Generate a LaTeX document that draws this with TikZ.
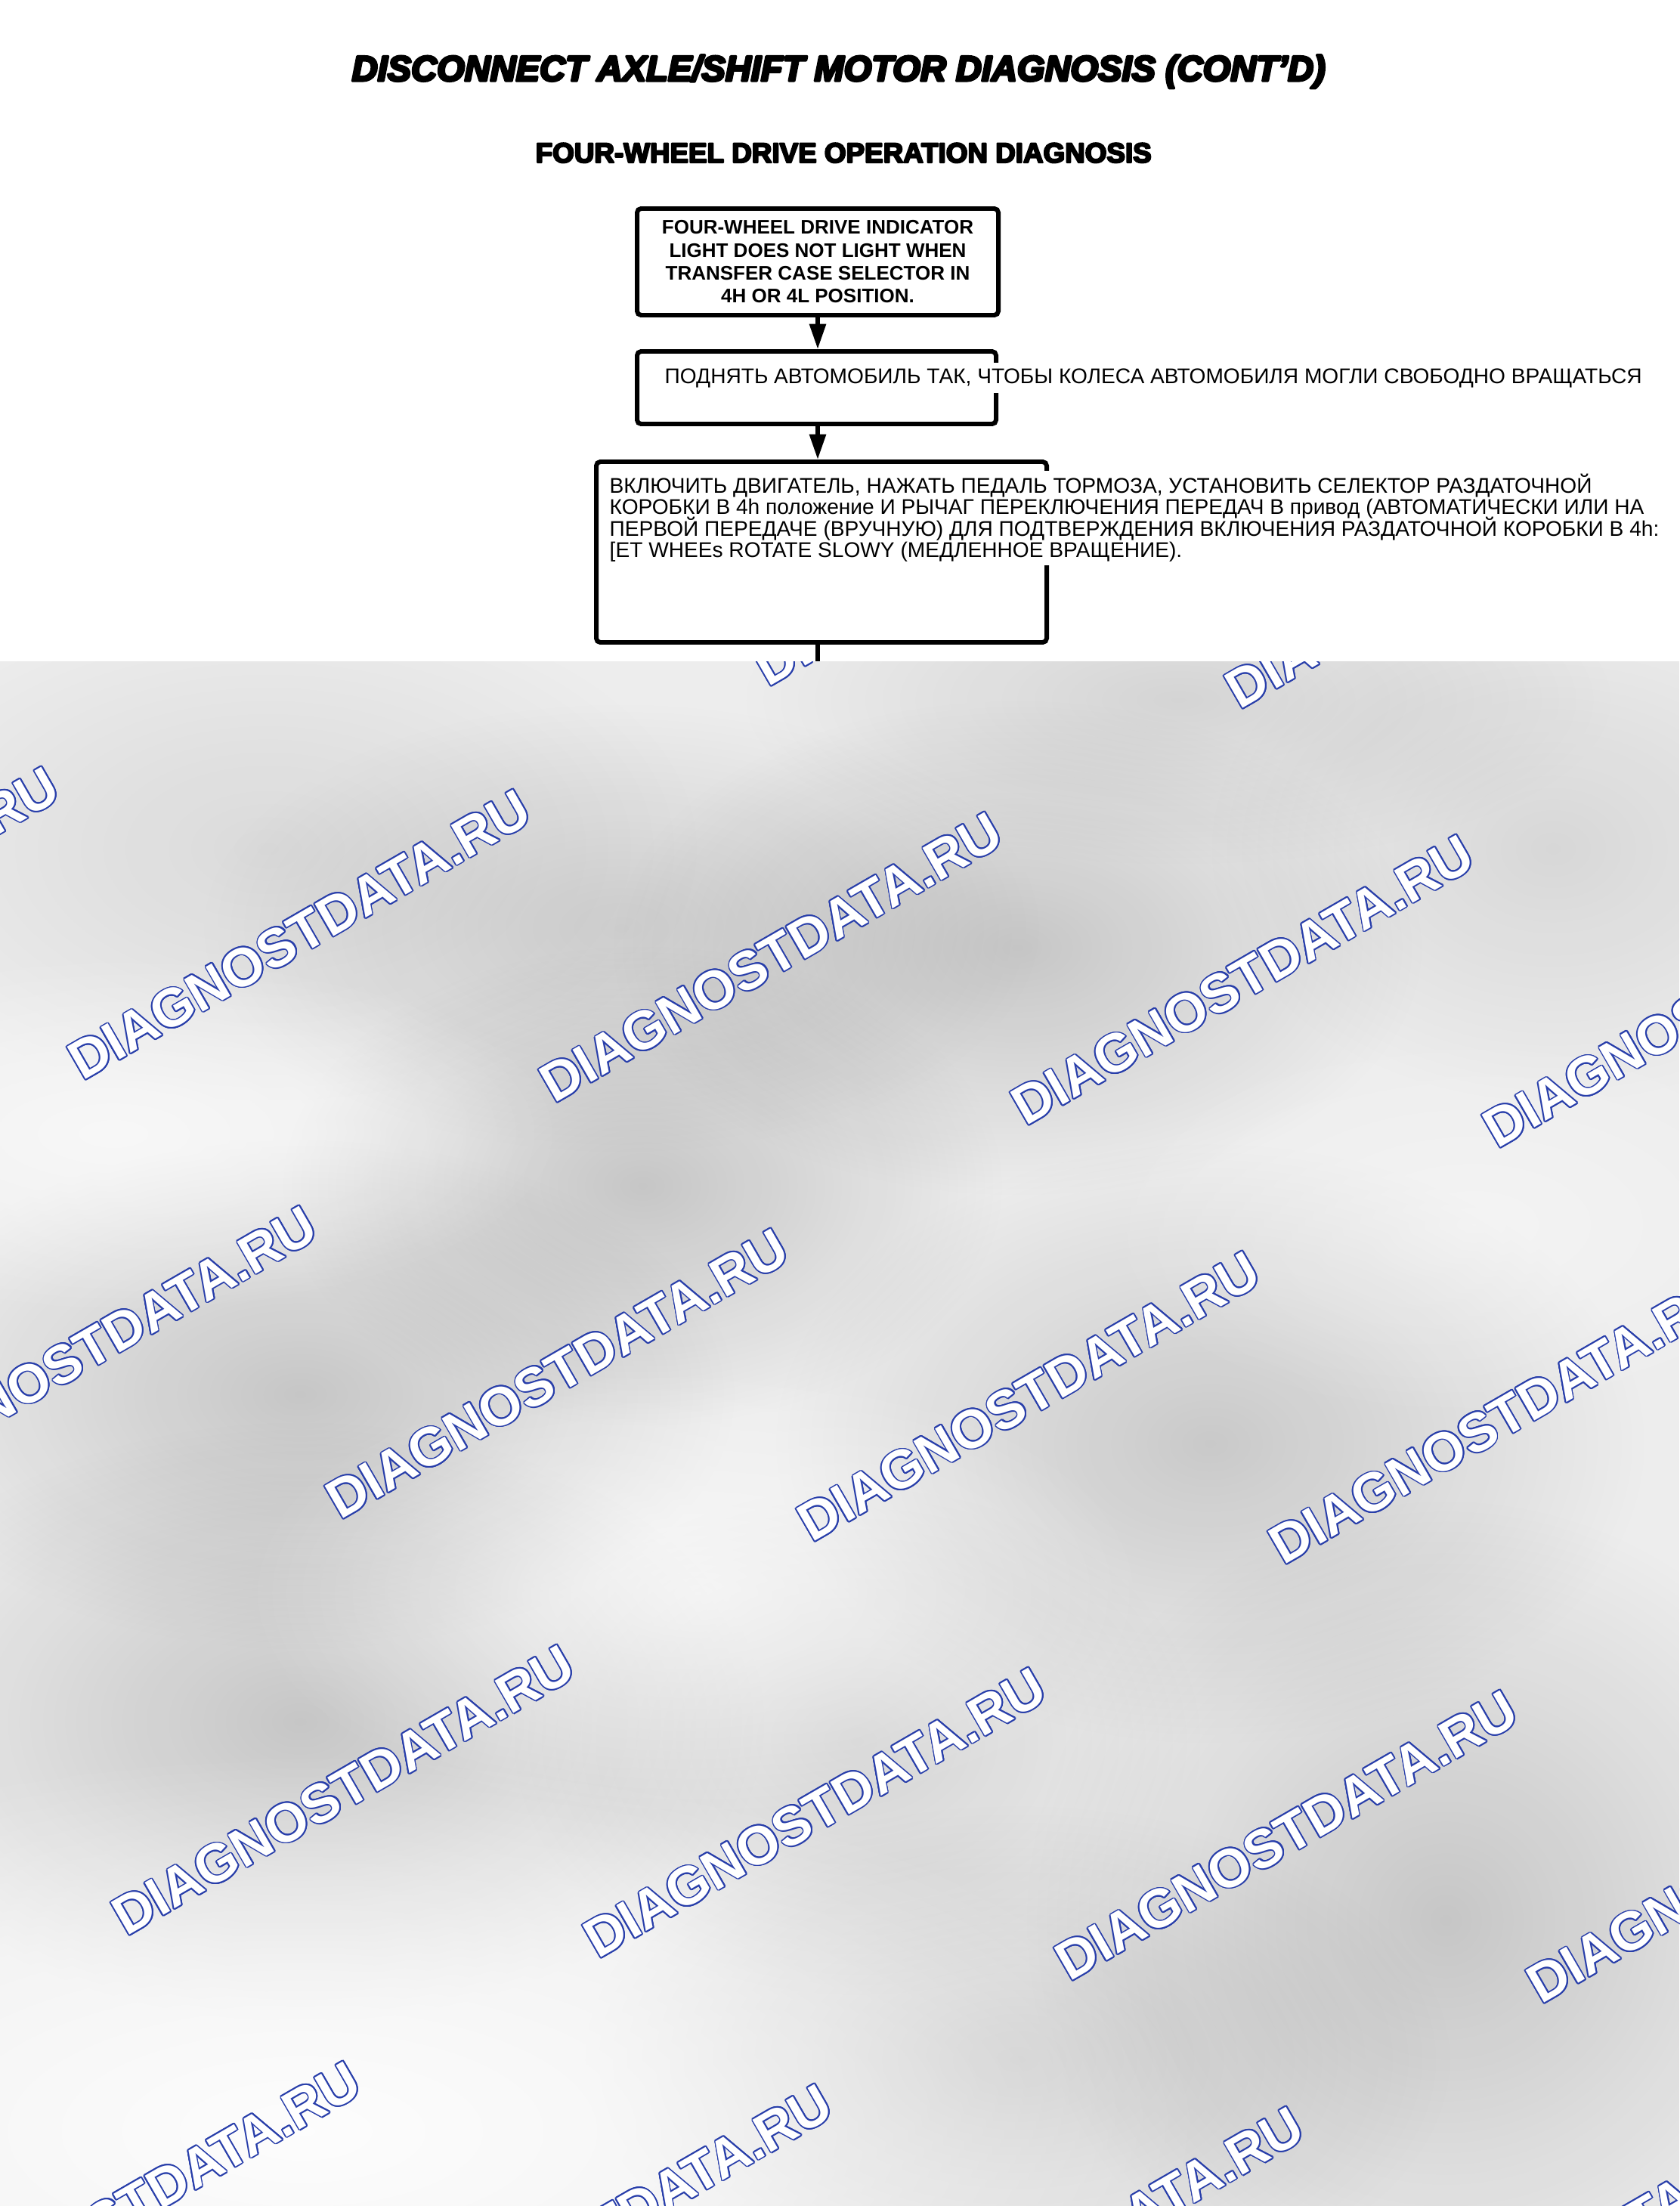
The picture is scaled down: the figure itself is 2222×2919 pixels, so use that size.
\documentclass[tikz,border=0pt]{standalone}
\usepackage{fontspec}
\setmainfont{Liberation Sans}
\usepackage{contour}
\contourlength{0.5pt}
\usetikzlibrary{arrows.meta,fadings}
\tikzfading[name=blobfade, inner color=transparent!0, outer color=transparent!100]
\definecolor{wmblue}{RGB}{40,62,170}
\definecolor{bgbase}{RGB}{237,237,237}
\newcommand\dblob[5]{\fill[black, path fading=blobfade, fill opacity=#5] (#1,#2) ellipse [x radius=#3, y radius=#4];}
\newcommand\lblob[5]{\fill[white, path fading=blobfade, fill opacity=#5] (#1,#2) ellipse [x radius=#3, y radius=#4];}
\newcommand\heavytext[2]{\special{pdf:literal direct q 2 Tr 1 j #1 w 0 g 0 G}#2\special{pdf:literal direct Q}}
\begin{document}
\begin{tikzpicture}[x=0.1mm,y=-0.1mm,
  box/.style={draw, line width=1.7pt, rounded corners=1.5pt, inner sep=0pt},
  arr/.style={line width=1.6pt, -{Triangle[length=9.5pt,width=6pt]}},
  ttl/.style={anchor=base west, inner sep=0pt},
  ru/.style={anchor=base west, inner sep=0pt, font=\fontsize{8}{9.6}\selectfont},
  wm/.style={anchor=base west, inner sep=0pt, rotate=30, text=white,
    font=\fontsize{20.4}{24}\selectfont\bfseries}]

\useasboundingbox (0,0) rectangle (2222,2919);
\fill[white] (0,0) rectangle (2222,2919);

% titles
\node[ttl] (title) at (465,107)
  {\resizebox{128.8mm}{!}{\bfseries\itshape\heavytext{0.7}{DISCONNECT AXLE/SHIFT MOTOR DIAGNOSIS (CONT’D)}}};
\node[ttl] (sub) at (708,215)
  {\resizebox{81.5mm}{!}{\bfseries\heavytext{0.6}{FOUR-WHEEL DRIVE OPERATION DIAGNOSIS}}};

% boxes
\node[box, minimum width=47.8mm, minimum height=14.1mm, align=center,
  font=\fontsize{7.4}{8.63}\selectfont\bfseries] (b1) at (1082,346.5)
  {FOUR-WHEEL DRIVE INDICATOR\\LIGHT DOES NOT LIGHT WHEN\\TRANSFER CASE SELECTOR IN\\4H OR 4L POSITION.};
\node[box, minimum width=47.5mm, minimum height=9.6mm] (b2) at (1080.5,513) {};
\node[box, minimum width=59.6mm, minimum height=23.9mm] (b3) at (1087,730.5) {};

% connectors
\draw[arr] (b1.south) -- (b1.south |- b2.north);
\draw[arr] (b1.south |- b2.south) -- (b1.south |- b3.north);
\coordinate (cut) at (1082,885);
\draw[line width=1.6pt] (b1.south |- b3.south) -- (cut);

% box 2 text
\fill[white] (872,480) rectangle (2180,520);
\node[ru] (t2) at (879,508) {ПОДНЯТЬ АВТОМОБИЛЬ ТАК, ЧТОБЫ КОЛЕСА АВТОМОБИЛЯ МОГЛИ СВОБОДНО ВРАЩАТЬСЯ};

% box 3 text
\fill[white] (798,623) rectangle (2205,748);
\node[ru] (t3a) at (806,652) {ВКЛЮЧИТЬ ДВИГАТЕЛЬ, НАЖАТЬ ПЕДАЛЬ ТОРМОЗА, УСТАНОВИТЬ СЕЛЕКТОР РАЗДАТОЧНОЙ};
\node[ru] (t3b) at (806,680) {КОРОБКИ В 4h положение И РЫЧАГ ПЕРЕКЛЮЧЕНИЯ ПЕРЕДАЧ В привод (АВТОМАТИЧЕСКИ ИЛИ НА};
\node[ru] (t3c) at (806,709) {ПЕРВОЙ ПЕРЕДАЧЕ (ВРУЧНУЮ) ДЛЯ ПОДТВЕРЖДЕНИЯ ВКЛЮЧЕНИЯ РАЗДАТОЧНОЙ КОРОБКИ В 4h:};
\node[ru] (t3d) at (806,737) {[ET WHEEs ROTATE SLOWY (МЕДЛЕННОЕ ВРАЩЕНИЕ).};

% blurred watermark background
\begin{scope}
\clip (0,875) rectangle (2222,2919);
\fill[bgbase] (0,875) rectangle (2222,2919);
\dblob{822}{1228}{560}{300}{0.12}
\dblob{850}{1569}{480}{320}{0.16}
\dblob{1346}{1254}{540}{330}{0.16}
\dblob{397}{1845}{580}{340}{0.16}
\dblob{1601}{1910}{580}{400}{0.15}
\dblob{397}{2278}{620}{400}{0.16}
\dblob{1134}{2304}{460}{340}{0.1}
\dblob{1913}{2541}{560}{560}{0.16}
\dblob{1346}{2725}{580}{340}{0.12}
\dblob{1559}{926}{580}{220}{0.1}
\dblob{354}{1123}{580}{340}{0.08}
\dblob{2055}{1123}{460}{340}{0.09}
\lblob{150}{1500}{600}{240}{0.6}
\lblob{921}{2108}{600}{300}{0.6}
\lblob{400}{2820}{1200}{500}{0.9}
\lblob{1950}{1620}{500}{260}{0.4}
\foreach \r/\kmin in {-1/2,0/-1,1/-1,2/-1,3/-2}{
  \foreach \k in {\kmin,...,3}{
    \node[wm] (wm\r\k) at ({109+\r*341+\k*624},{1431+\r*581+\k*30})
      {\contour{wmblue}{DIAGNOSTDATA.RU}};
  }
}
\end{scope}
\end{tikzpicture}
\end{document}
